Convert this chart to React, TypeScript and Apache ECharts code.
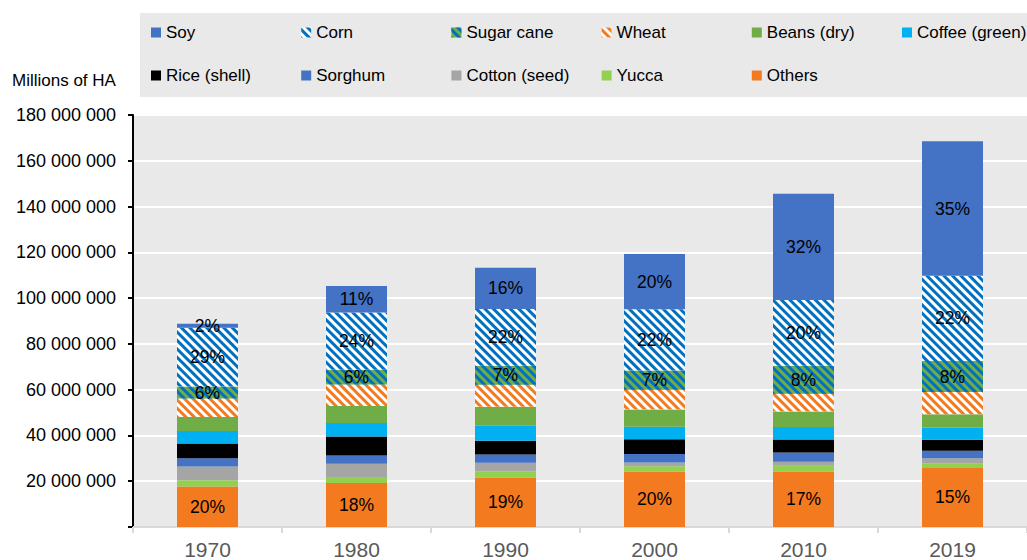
import React, { useEffect, useRef } from "react";
import * as echarts from "echarts";

// Harvested area by crop, in millions of hectares
const years = ["1970", "1980", "1990", "2000", "2010", "2019"];
const soy = [1.8, 11.6, 18.1, 24.2, 46.4, 58.7];
const corn = [25.6, 25.0, 24.8, 26.7, 28.7, 37.3];
const sugarCane = [5.3, 6.4, 8.2, 8.4, 12.3, 13.5];
const wheat = [8.0, 9.4, 9.7, 8.7, 7.7, 9.7];
const beans = [6.2, 7.5, 8.3, 7.5, 6.8, 5.8];
const coffee = [5.4, 5.9, 6.5, 5.5, 5.5, 5.4];
const rice = [6.5, 8.3, 6.0, 6.4, 5.7, 4.8];
const sorghum = [3.6, 3.6, 3.6, 3.7, 4.0, 3.3];
const cotton = [6.0, 5.8, 3.9, 1.7, 1.7, 2.2];
const yucca = [2.7, 2.6, 2.6, 2.4, 2.6, 2.0];
const others = [17.7, 19.2, 21.6, 24.1, 24.2, 25.8];

const yTicks = [0, 20e6, 40e6, 60e6, 80e6, 100e6, 120e6, 140e6, 160e6, 180e6];

const FONT = '"Liberation Sans", Arial, sans-serif';

// diagonal hatching running from top-left to bottom-right
const stripes = (color: string) => ({
  symbol: "rect",
  symbolSize: 1,
  dashArrayX: [1, 0],
  dashArrayY: [2.5, 2.5],
  rotation: Math.PI / 4,
  color,
});

type Crop = {
  name: string;
  values: number[];
  color: string;
  decal?: any;
  labelled?: boolean;
};

// bottom of the stack first
const crops: Crop[] = [
  { name: "Others", values: others, color: "#F47A20", labelled: true },
  { name: "Yucca", values: yucca, color: "#92D050" },
  { name: "Cotton (seed)", values: cotton, color: "#A5A5A5" },
  { name: "Sorghum", values: sorghum, color: "#4472C4" },
  { name: "Rice (shell)", values: rice, color: "#000000" },
  { name: "Coffee (green)", values: coffee, color: "#00B0F0" },
  { name: "Beans (dry)", values: beans, color: "#70AD47" },
  { name: "Wheat", values: wheat, color: "#FFFFFF", decal: stripes("#F47A20") },
  { name: "Sugar cane", values: sugarCane, color: "#70AD47", decal: stripes("#0070C0"), labelled: true },
  { name: "Corn", values: corn, color: "#FFFFFF", decal: stripes("#0070C0"), labelled: true },
  { name: "Soy", values: soy, color: "#4472C4", labelled: true },
];

// legend reading order: two rows of six columns
const legendRows = [
  ["Soy", "Corn", "Sugar cane", "Wheat", "Beans (dry)", "Coffee (green)"],
  ["Rice (shell)", "Sorghum", "Cotton (seed)", "Yucca", "Others"],
];

const totals = years.map((_, i) => crops.reduce((s, c) => s + c.values[i], 0));

const fmtSpaces = (v: number) =>
  v === 0 ? "" : Math.round(v).toString().replace(/\B(?=(\d{3})+(?!\d))/g, " ");

export default function App() {
  const ref = useRef<HTMLDivElement>(null);

  useEffect(() => {
    if (!ref.current) return;
    const chart = echarts.init(ref.current, null, { renderer: "svg" });

    const legends: any[] = [];
    legendRows.forEach((row, r) => {
      row.forEach((name, c) => {
        legends.push({
          data: [name],
          left: 151 + c * 150.2,
          top: r === 0 ? 24 : 67,
          padding: 0,
          itemWidth: 10,
          itemHeight: 10,
          icon: "rect",
          selectedMode: false,
          textStyle: { fontFamily: FONT, fontSize: 17, color: "#000" },
        });
      });
    });

    chart.setOption({
      animation: false,
      textStyle: { fontFamily: FONT },
      graphic: [
        {
          type: "rect",
          left: 140,
          top: 13,
          z: 0,
          shape: { width: 900, height: 84 },
          style: { fill: "#E9E9E9" },
        },
        {
          type: "text",
          left: 12,
          top: 72,
          style: { text: "Millions of HA", font: `17px ${FONT}`, fill: "#000" },
        },
      ],
      legend: legends,
      grid: {
        left: 133,
        right: -14,
        top: 115,
        bottom: 31,
        show: true,
        backgroundColor: "#E9E9E9",
        borderWidth: 0,
      },
      xAxis: {
        type: "category",
        data: years,
        axisLine: { lineStyle: { color: "#D9D9D9", width: 2 } },
        axisTick: { show: true, length: 6, lineStyle: { color: "#D9D9D9", width: 2 } },
        axisLabel: { color: "#595959", fontSize: 21, margin: 12, fontFamily: FONT },
      },
      yAxis: {
        type: "value",
        min: 0,
        max: yTicks[yTicks.length - 1],
        interval: yTicks[1] - yTicks[0],
        axisLine: { show: true, lineStyle: { color: "#000", width: 2 } },
        axisTick: { show: true, length: 5, lineStyle: { color: "#000", width: 2 } },
        splitLine: { show: true, lineStyle: { color: "#FFFFFF", width: 2 } },
        axisLabel: {
          color: "#000",
          fontSize: 18,
          margin: 17,
          fontFamily: FONT,
          formatter: (v: number) => fmtSpaces(v),
        },
      },
      series: crops.map((c) => ({
        name: c.name,
        type: "bar",
        stack: "area",
        barWidth: 61,
        data: c.values.map((v) => v * 1e6),
        itemStyle: {
          color: c.color,
          ...(c.decal ? { decal: c.decal } : {}),
        },
        label: c.labelled
          ? {
              show: true,
              position: "inside",
              color: "#000",
              fontSize: 17.5,
              fontFamily: FONT,
              formatter: (p: any) =>
                Math.round((c.values[p.dataIndex] / totals[p.dataIndex]) * 100) + "%",
            }
          : { show: false },
        emphasis: { disabled: true },
      })),
    });

    return () => chart.dispose();
  }, []);

  return (
    <div
      ref={ref}
      style={{ position: "fixed", left: 0, top: 0, width: 1027, height: 560, background: "#fff" }}
    />
  );
}
